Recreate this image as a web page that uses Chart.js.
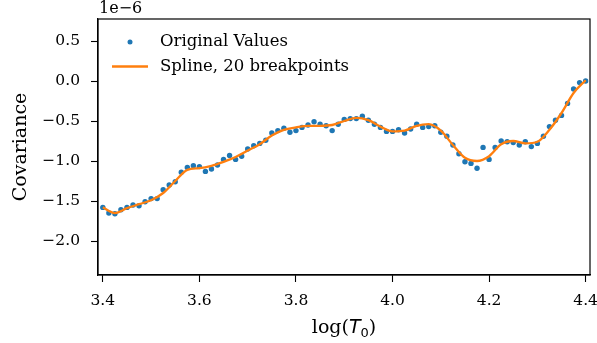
<!DOCTYPE html>
<html>
<head>
<meta charset="utf-8">
<script src="https://cdn.jsdelivr.net/npm/chart.js@4"></script>
<style>
  html, body { margin: 0; padding: 0; background: #fff; }
  #wrap { width: 597px; height: 343px; }
</style>
</head>
<body>
<div id="wrap"><canvas id="covChart" width="597" height="343"></canvas></div>
<script>
// data, covariance in units of 1e-6

const pointX = [3.4, 3.4125, 3.425, 3.4375, 3.45, 3.4625, 3.475, 3.4875, 3.5, 3.5125,
    3.525, 3.5375, 3.55, 3.5625, 3.575, 3.5875, 3.6, 3.6125, 3.625, 3.6375,
    3.65, 3.6625, 3.675, 3.6875, 3.7, 3.7125, 3.725, 3.7375, 3.75, 3.7625,
    3.775, 3.7875, 3.8, 3.8125, 3.825, 3.8375, 3.85, 3.8625, 3.875, 3.8875,
    3.9, 3.9125, 3.925, 3.9375, 3.95, 3.9625, 3.975, 3.9875, 4.0, 4.0125,
    4.025, 4.0375, 4.05, 4.0625, 4.075, 4.0875, 4.1, 4.1125, 4.125, 4.1375,
    4.15, 4.1625, 4.175, 4.1875, 4.2, 4.2125, 4.225, 4.2375, 4.25, 4.2625,
    4.275, 4.2875, 4.3, 4.3125, 4.325, 4.3375, 4.35, 4.3625, 4.375, 4.3875, 4.4];

const pointY = [-1.58, -1.65, -1.66, -1.61, -1.58, -1.55, -1.56, -1.51, -1.47, -1.47,
    -1.36, -1.30, -1.26, -1.14, -1.08, -1.06, -1.07, -1.13, -1.10, -1.05,
    -0.98, -0.93, -0.98, -0.94, -0.85, -0.81, -0.78, -0.74, -0.65, -0.62,
    -0.59, -0.64, -0.62, -0.58, -0.55, -0.51, -0.54, -0.56, -0.62, -0.54,
    -0.48, -0.47, -0.47, -0.44, -0.49, -0.54, -0.58, -0.63, -0.63, -0.61,
    -0.65, -0.60, -0.54, -0.58, -0.57, -0.56, -0.64, -0.69, -0.80, -0.91,
    -1.01, -1.03, -1.09, -0.83, -0.98, -0.83, -0.75, -0.76, -0.77, -0.80,
    -0.76, -0.82, -0.78, -0.69, -0.57, -0.49, -0.43, -0.28, -0.10, -0.02, 0.00];

const splineX = [3.4, 3.425, 3.45, 3.475, 3.5, 3.525, 3.55, 3.575, 3.6, 3.625,
    3.65, 3.675, 3.7, 3.725, 3.75, 3.775, 3.8, 3.825, 3.85, 3.875,
    3.9, 3.925, 3.95, 3.975, 4.0, 4.025, 4.05, 4.075, 4.1, 4.125,
    4.15, 4.175, 4.2, 4.225, 4.25, 4.275, 4.3, 4.325, 4.35, 4.375, 4.4];

const splineY = [-1.58, -1.65, -1.59, -1.54, -1.49, -1.40, -1.25, -1.11, -1.09, -1.06,
    -1.01, -0.95, -0.87, -0.79, -0.68, -0.61, -0.58, -0.56, -0.56, -0.55,
    -0.50, -0.46, -0.49, -0.57, -0.63, -0.62, -0.56, -0.54, -0.62, -0.80,
    -0.96, -1.00, -0.94, -0.79, -0.75, -0.78, -0.76, -0.61, -0.40, -0.15, 0.01];

const xTicks = [3.4, 3.6, 3.8, 4.0, 4.2, 4.4];
const yTicks = [-2.0, -1.5, -1.0, -0.5, 0.0, 0.5];

const labelPoints = 'Original Values';
const labelSpline = 'Spline, 20 breakpoints';

//colors and fonts
const blue = '#1f77b4';
const orange = '#ff7f0e';
const serif = "'DejaVu Serif', serif";
const tickFont = { family: serif, size: 15.5 };

const fmt = (v) => v.toFixed(1).replace('-', '\u2212');

// frame, offset text, axis titles and legend
const extras = {
    id: 'extras',
    afterDraw(chart) {
        const ctx = chart.ctx;
        const a = chart.chartArea;
        ctx.save();
        ctx.strokeStyle = '#000';
        ctx.lineWidth = 1.2;
        ctx.strokeRect(a.left, a.top, a.right - a.left, a.bottom - a.top);

        ctx.fillStyle = '#000';
        ctx.font = '16px ' + serif;
        ctx.textAlign = 'left';
        ctx.textBaseline = 'alphabetic';
        ctx.fillText('1e\u22126', a.left + 1, a.top - 6);

        // y title
        ctx.save();
        ctx.translate(21, (a.top + a.bottom) / 2);
        ctx.rotate(-Math.PI / 2);
        ctx.font = '19px ' + serif;
        ctx.textAlign = 'center';
        ctx.textBaseline = 'middle';
        ctx.fillText('Covariance', 0, 0);
        ctx.restore();

        // x title log(T0)
        const parts = [
            { t: 'log(', f: '19px ' + serif, dy: 0 },
            { t: 'T', f: 'italic 19px "DejaVu Sans"', dy: 0 },
            { t: '0', f: '13px "DejaVu Sans"', dy: 4 },
            { t: ')', f: '19px ' + serif, dy: 0 }
        ];
        let w = 0;
        parts.forEach(p => { ctx.font = p.f; w += ctx.measureText(p.t).width; });
        let x = (a.left + a.right) / 2 - w / 2;
        const yBase = 333;
        ctx.textAlign = 'left';
        parts.forEach(p => {
            ctx.font = p.f;
            ctx.fillText(p.t, x, yBase + p.dy);
            x += ctx.measureText(p.t).width;
        });

        // legend
        ctx.font = '16.5px ' + serif;
        ctx.textBaseline = 'middle';
        ctx.fillStyle = blue;
        ctx.beginPath();
        ctx.arc(130, 42, 2.5, 0, Math.PI * 2);
        ctx.fill();
        ctx.strokeStyle = orange;
        ctx.lineWidth = 2.3;
        ctx.beginPath();
        ctx.moveTo(112, 66.5);
        ctx.lineTo(148, 66.5);
        ctx.stroke();
        ctx.fillStyle = '#000';
        ctx.fillText(labelPoints, 160, 42);
        ctx.fillText(labelSpline, 160, 66.5);
        ctx.restore();
    }
};

const ctxCov = document.getElementById('covChart');

new Chart(ctxCov, {
    type: 'scatter',
    data: {
        datasets: [
            {
                label: labelPoints,
                data: pointX.map((x, i) => ({ x: x, y: pointY[i] })),
                backgroundColor: blue,
                borderWidth: 0,
                pointRadius: 2.7,
                showLine: false,
                order: 2
            },
            {
                label: labelSpline,
                data: splineX.map((x, i) => ({ x: x, y: splineY[i] })),
                borderColor: orange,
                borderWidth: 2.3,
                pointRadius: 0,
                showLine: true,
                tension: 0.4,
                cubicInterpolationMode: 'monotone',
                order: 1
            }
        ]
    },
    options: {
        responsive: false,
        animation: false,
        layout: { padding: { top: 19, right: 7, left: 0, bottom: 0 } },
        plugins: { legend: { display: false }, tooltip: { enabled: false } },
        scales: {
            x: {
                type: 'linear',
                min: 3.39,
                max: 4.409,
                afterBuildTicks: (s) => { s.ticks = xTicks.map(v => ({ value: v })); },
                afterFit: (s) => { s.height = 68; s.paddingLeft = 0; s.paddingRight = 0; },
                ticks: { callback: fmt, font: tickFont, color: '#000', padding: 10, maxRotation: 0, autoSkip: false },
                grid: { drawOnChartArea: false, drawTicks: true, tickLength: 7, tickWidth: 1.1, tickColor: '#000' },
                border: { display: true, color: '#000', width: 1.2 }
            },
            y: {
                type: 'linear',
                min: -2.425,
                max: 0.775,
                afterBuildTicks: (s) => { s.ticks = yTicks.map(v => ({ value: v })); },
                afterFit: (s) => { s.width = 98; s.paddingTop = 0; s.paddingBottom = 0; },
                ticks: { callback: fmt, font: tickFont, color: '#000', padding: 11, autoSkip: false },
                grid: { drawOnChartArea: false, drawTicks: true, tickLength: 7, tickWidth: 1.1, tickColor: '#000' },
                border: { display: true, color: '#000', width: 1.2 }
            }
        }
    },
    plugins: [extras]
});
</script>
</body>
</html>
